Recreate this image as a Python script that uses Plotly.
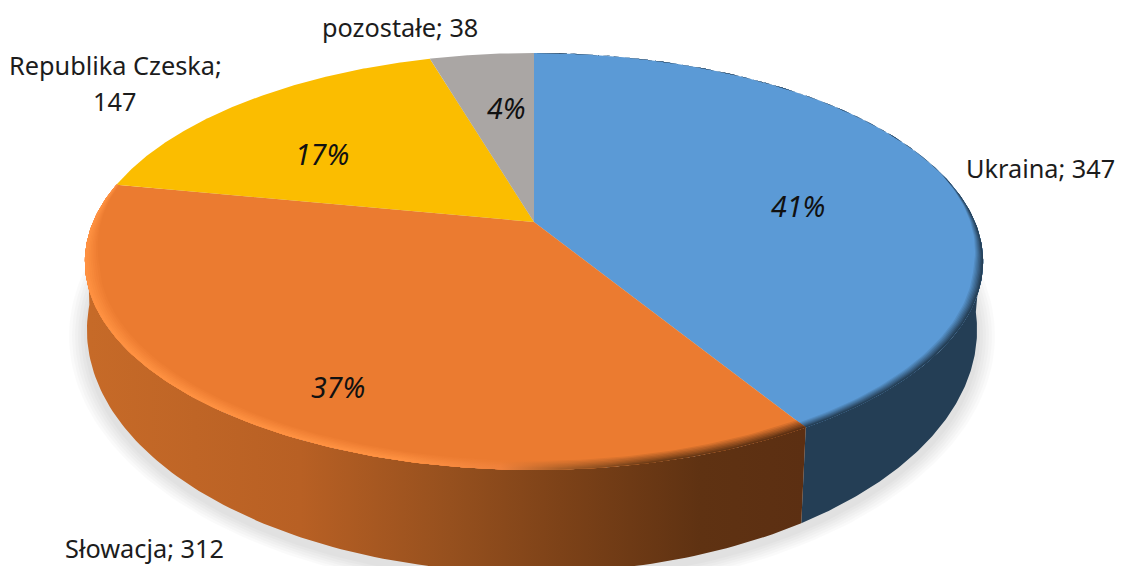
import numpy as np
import plotly.graph_objects as go

categories = ["Ukraina", "Słowacja", "Republika Czeska", "pozostałe"]
values = [347, 312, 147, 38]
percent_labels = ["41%", "37%", "17%", "4%"]

TOP_COLORS = [(91, 154, 214), (235, 123, 48), (251, 189, 0), (170, 166, 164)]
W, H = 1121, 566
TOP = dict(cx=534, cy=222, a=441, b=201, k=0.1894)
BOT = dict(cx=532, cy=284, a=437, b=234, k=0.1894)
FONT = "Noto Sans"
TEXT = "#1c1c1c"


def project(theta, r, p):
    theta = theta + 0.03 * np.clip(np.sin(theta), 0, 1)
    u = r * np.sin(theta)
    v = r * np.cos(theta)
    w = 1 + p["k"] * v
    return p["cx"] + p["a"] * u / w, p["cy"] - p["b"] * v / w


def rgb(c):
    return "rgb(%d,%d,%d)" % tuple(int(round(x)) for x in c)


def mix(a, b, t):
    return tuple(a[i] * (1 - t) + b[i] * t for i in range(3))


def scale_from(stops, t=1.0, base=None):
    out = []
    for x, c in stops:
        col = c if base is None else mix(base, c, t)
        out.append([x / W, rgb(col)])
    out[0][0] = 0.0
    out[-1][0] = 1.0
    return out


def grad(stops, t=1.0, base=None):
    return dict(type="horizontal", start=0, stop=W, colorscale=scale_from(stops, t, base))


SIDE = [
    [(0, (36, 62, 85)), (W, (36, 62, 85))],
    [(0, (200, 108, 41)), (90, (198, 106, 40)), (300, (184, 96, 36)), (450, (150, 80, 30)),
     (560, (125, 66, 24)), (700, (95, 50, 18)), (805, (92, 47, 18)), (W, (92, 47, 18))],
]
RIM = [
    [(0, (36, 62, 85)), (W, (36, 62, 85))],
    [(0, (255, 145, 65)), (400, (255, 145, 65)), (500, (240, 130, 60)), (560, (170, 95, 40)),
     (650, (110, 60, 22)), (805, (92, 47, 18)), (W, (92, 47, 18))],
]

total = sum(values)
edges = np.concatenate([[0], np.cumsum(values)]) / total * 2 * np.pi
fig = go.Figure()


def poly(xs, ys, **kw):
    fig.add_trace(go.Scatter(x=xs, y=ys, mode="lines", fill="toself", line=dict(width=0),
                             hoverinfo="skip", showlegend=False, **kw))


# soft shadow beneath the disc
t = np.linspace(0, 2 * np.pi, 240)
for e in range(18, 0, -3):
    poly(BOT["cx"] + (445 + e) * np.sin(t), 336 + (243 + e * 0.8) * np.cos(t),
         fillcolor="rgba(0,0,0,0.020)")

# visible wall of the disc
vis0, vis1 = np.radians(95), np.radians(265)
for i in range(len(values)):
    a0, a1 = max(edges[i], vis0), min(edges[i + 1], vis1)
    if a1 <= a0 or i >= len(SIDE):
        continue
    th = np.linspace(a0, a1, 120)
    x0, y0 = project(th, 1, TOP)
    x1, y1 = project(th, 1, BOT)
    poly(np.r_[x0, x1[::-1]], np.r_[y0, y1[::-1]], fillgradient=grad(SIDE[i]))

# top face
for i in range(len(values)):
    th = np.linspace(edges[i], edges[i + 1], 160)
    x, y = project(th, 1, TOP)
    cx, cy = project(np.array([0.0]), 0, TOP)
    poly(np.r_[cx, x, cx], np.r_[cy, y, cy], fillcolor=rgb(TOP_COLORS[i]))

# bevel along the front rim: nested bands, each painted out to the rim
RINGS = 7
WIDTH = [0.020, 0.030]
for i in range(2):
    th = np.linspace(edges[i], edges[i + 1], 160)
    f = np.clip((0.3 - np.cos(th)) / 0.5, 0, 1)
    xo, yo = project(th, 1, TOP)
    for j in range(RINGS):
        r_in = 1 - WIDTH[i] * f * (RINGS - j) / RINGS
        xi, yi = project(th, r_in, TOP)
        poly(np.r_[xo, xi[::-1]], np.r_[yo, yi[::-1]],
             fillgradient=grad(RIM[i], (j + 1) / RINGS, TOP_COLORS[i]))

# labels
label_pos = [[(1040, 168)], [(144, 548)], [(115, 65), (114, 101)], [(400, 27)]]
label_lines = [
    [f"{categories[0]}; {values[0]}"],
    [f"{categories[1]}; {values[1]}"],
    [categories[2].replace(" ", "\u00a0") + ";", f"{values[2]}"],
    [f"{categories[3]}; {values[3]}"],
]
for lines, poss in zip(label_lines, label_pos):
    for s, (x, y) in zip(lines, poss):
        fig.add_annotation(x=x, y=y, text=s, showarrow=False, xanchor="center", yanchor="middle",
                           font=dict(family=FONT, size=25.3, color=TEXT))

pct_pos = [(798, 206), (338, 387), (322, 154), (506, 108)]
for s, (x, y) in zip(percent_labels, pct_pos):
    fig.add_annotation(x=x, y=y, text=f"<i>{s}</i>", showarrow=False,
                       xanchor="center", yanchor="middle",
                       font=dict(family=FONT, size=28.5, color="#111111"))

fig.update_layout(
    width=W, height=H, margin=dict(l=0, r=0, t=0, b=0),
    paper_bgcolor="white", plot_bgcolor="white", showlegend=False,
    xaxis=dict(range=[0, W], visible=False, fixedrange=True),
    yaxis=dict(range=[H, 0], visible=False, fixedrange=True),
)
fig.write_html("out.html", config=dict(displayModeBar=False),
               post_script="document.body.style.margin='0';")
